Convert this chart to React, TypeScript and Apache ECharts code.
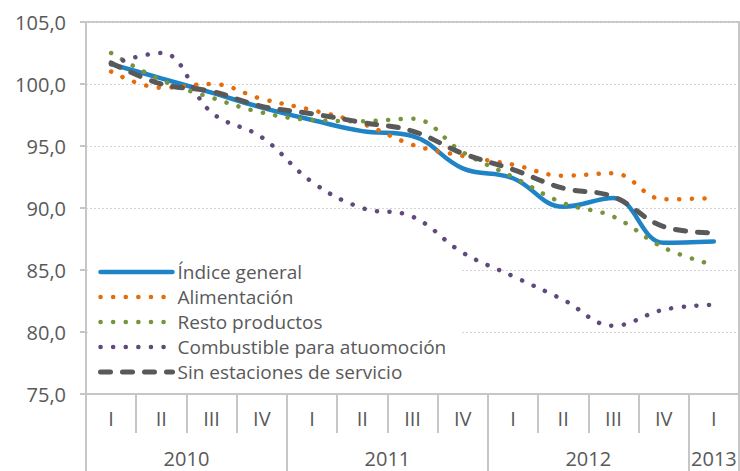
import React, { useEffect, useRef } from "react";
import * as echarts from "echarts";

const quarters = ["I", "II", "III", "IV", "I", "II", "III", "IV", "I", "II", "III", "IV", "I"];
const yearLabels = ["2010", "2011", "2012", "2013"];
const yearCenters = [2, 6, 10, 12.5];
const yearBounds = [0, 4, 8, 12, 13];

const indiceGeneral = [101.6, 100.45, 99.3, 98.1, 97.1, 96.2, 95.8, 93.2, 92.4, 90.1, 90.8, 87.2, 87.3];
const alimentacion = [101.0, 99.7, 100.0, 98.8, 97.9, 96.8, 95.1, 94.2, 93.5, 92.6, 92.8, 90.7, 90.8];
const restoProductos = [102.5, 100.3, 98.9, 97.7, 97.1, 97.0, 97.2, 94.5, 92.5, 90.4, 89.3, 86.8, 85.4];
const combustible = [101.6, 102.5, 97.7, 95.7, 92.1, 90.0, 89.3, 86.4, 84.5, 82.6, 80.5, 81.8, 82.2];
const sinEstaciones = [101.7, 100.0, 99.4, 98.2, 97.6, 96.9, 96.2, 94.4, 93.1, 91.6, 90.9, 88.5, 88.0];

const seriesNames = [
  "Índice general",
  "Alimentación",
  "Resto productos",
  "Combustible para atuomoción",
  "Sin estaciones de servicio",
];

const FONT = "'Open Sans', sans-serif";
const TEXT = "#595959";
const AXIS = "#c6c6c6";

export default function App() {
  const ref = useRef<HTMLDivElement>(null);
  useEffect(() => {
    if (!ref.current) return;
    const chart = echarts.init(ref.current, null, { renderer: "svg" });
    const dotted = (color: string) => ({ color, width: 4.5, type: [0.1, 12.5], cap: "round" });
    const styles: any[] = [
      { color: "#1f84c6", width: 4.5, type: "solid", cap: "round" },
      dotted("#e46c0a"),
      dotted("#77933c"),
      dotted("#604a7b"),
      { color: "#595959", width: 5, type: [10, 12], cap: "round" },
    ];
    const data = [indiceGeneral, alimentacion, restoProductos, combustible, sinEstaciones];
    chart.setOption({
      animation: false,
      grid: {
        left: 86,
        right: 1,
        top: 22,
        bottom: 77,
        show: true,
        borderColor: AXIS,
        borderWidth: 2,
        backgroundColor: "transparent",
      },
      legend: {
        orient: "vertical",
        left: 88,
        top: 257,
        padding: [5, 14, 8, 10],
        backgroundColor: "#ffffff",
        itemWidth: 72,
        itemHeight: 14,
        itemGap: 5,
        itemTextGap: 5,
        itemStyle: { opacity: 0 },
        textStyle: { color: TEXT, fontSize: 19, fontFamily: FONT, lineHeight: 20 },
        data: seriesNames.map((name, i) => ({
          name,
          lineStyle: styles[i],
          itemStyle: { opacity: 0, color: "transparent", borderWidth: 0 },
        })),
      },
      xAxis: [
        {
          type: "category",
          data: quarters,
          boundaryGap: true,
          axisLine: { lineStyle: { color: AXIS, width: 2 } },
          axisTick: { show: true, interval: 0, length: 39, lineStyle: { color: AXIS, width: 2 } },
          axisLabel: { color: TEXT, fontSize: 20, fontFamily: FONT, margin: 14, interval: 0 },
        },
        {
          type: "value",
          min: 0,
          max: 13,
          position: "bottom",
          offset: 0,
          axisLine: { show: false },
          splitLine: { show: false },
          axisTick: {
            show: true,
            length: 77,
            customValues: yearBounds,
            lineStyle: { color: AXIS, width: 2 },
          },
          axisLabel: {
            color: TEXT,
            fontSize: 20,
            fontFamily: FONT,
            margin: 54,
            customValues: yearCenters,
            formatter: (v: number) => {
              const i = yearCenters.indexOf(v);
              return i >= 0 ? yearLabels[i] : "";
            },
          },
        },
      ],
      yAxis: {
        type: "value",
        min: 75,
        max: 105,
        interval: 5,
        axisLine: { show: true, lineStyle: { color: AXIS, width: 2 } },
        axisTick: { show: true, length: 6, lineStyle: { color: AXIS, width: 2 } },
        axisLabel: {
          color: TEXT,
          fontSize: 20,
          fontFamily: FONT,
          margin: 20,
          formatter: (v: number) => v.toFixed(1).replace(".", ","),
        },
        splitLine: { lineStyle: { color: "#d4d4d4", width: 1, type: [2, 2] } },
      },
      series: seriesNames.map((name, i) => ({
        name,
        type: "line",
        data: data[i],
        smooth: 0.4,
        symbol: "none",
        showSymbol: false,
        lineStyle: styles[i],
        itemStyle: { color: styles[i].color },
        z: 2 + i,
      })),
    });
    return () => chart.dispose();
  }, []);
  return (
    <div
      ref={ref}
      style={{ position: "fixed", left: 0, top: 0, width: 740, height: 471, background: "#fff" }}
    />
  );
}
